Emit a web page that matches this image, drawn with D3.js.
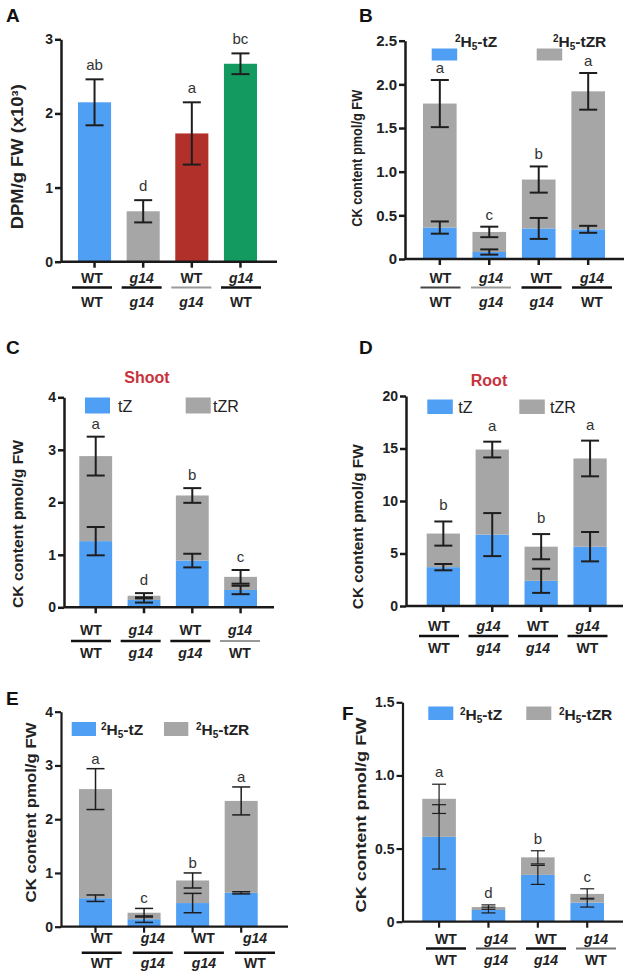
<!DOCTYPE html>
<html><head><meta charset="utf-8">
<script src="https://cdn.jsdelivr.net/npm/d3@7"></script>
<style>body{margin:0;background:#fff}svg{display:block;font-family:"Liberation Sans",Arial,sans-serif}</style>
</head><body>
<script>
// ---------- DATA ----------
const categories = ["WT/WT","g14/g14","WT/g14","g14/WT"];
const scionLabels = ["WT","g14","WT","g14"];
const rootLabels  = ["WT","g14","g14","WT"];

// Panel A (single bars)
const aValues = [2.15, 0.68, 1.73, 2.67];
const aErr    = [0.31, 0.15, 0.42, 0.14];
const aLetters = ["ab","d","a","bc"];

// Panel B (2H5-tZ / 2H5-tZR)
const bTZ = [0.36, 0.08, 0.35, 0.34];
const bTZErr = [0.07, 0.03, 0.12, 0.04];
const bTZR = [1.42, 0.23, 0.56, 1.58];
const bTotErr = [0.27, 0.06, 0.15, 0.21];
const bLetters = ["a","c","b","a"];

// Panel C (Shoot tZ / tZR)
const cTZ = [1.26, 0.14, 0.89, 0.33];
const cTZErr = [0.27, 0.05, 0.13, 0.08];
const cTZR = [1.62, 0.08, 1.24, 0.25];
const cTotErr = [0.37, 0.05, 0.14, 0.13];
const cLetters = ["a","d","b","c"];

// Panel D (Root tZ / tZR)
const dTZ = [3.7, 6.8, 2.4, 5.65];
const dTZErr = [0.3, 2.05, 1.15, 1.4];
const dTZR = [3.2, 8.1, 3.25, 8.4];
const dTotErr = [1.15, 0.75, 1.2, 1.7];
const dLetters = ["b","a","b","a"];

// Panel E
const eTZ = [0.53, 0.14, 0.44, 0.63];
const eTZErr = [0.06, 0.06, 0.18, 0.02];
const eTZR = [2.03, 0.12, 0.42, 1.71];
const eTotErr = [0.38, 0.08, 0.14, 0.26];
const eLetters = ["a","c","b","a"];

// Panel F
const fTZ = [0.58, 0.08, 0.32, 0.13];
const fTZErr = [0.22, 0.02, 0.065, 0.03];
const fTZR = [0.26, 0.02, 0.12, 0.06];
const fTotErr = [0.10, 0.015, 0.045, 0.035];
const fLetters = ["a","d","b","c"];

// tick labels
const ticks3 = [0,1,2,3], ticks3Labels = ["0","1","2","3"];
const ticks25 = [0,0.5,1,1.5,2,2.5], ticks25Labels = ["0","0.5","1.0","1.5","2.0","2.5"];
const ticks4 = [0,1,2,3,4], ticks4Labels = ["0","1","2","3","4"];
const ticks20 = [0,5,10,15,20], ticks20Labels = ["0","5","10","15","20"];
const ticks15 = [0,0.5,1,1.5], ticks15Labels = ["0","0.5","1.0","1.5"];

// ---------- STYLE ----------
const BLUE = "#4f9ff5", GRAY = "#a6a6a6";
const aColors = [BLUE, GRAY, "#b2302a", "#139a60"];

const svg = d3.select("body").append("svg").attr("width",633).attr("height",977);

function drawPanel(p) {
  const g = svg.append("g");
  const y = d3.scaleLinear().domain([0, p.yMax]).range([p.y0, p.yTop]);
  const x = d3.scaleBand().domain(categories).range([p.bx0, p.bx1]).paddingInner(0.32).paddingOuter(0);
  const bw = x.bandwidth();
  const cx = i => x(categories[i]) + bw/2;

  let errs = [];
  if (p.single) {
    g.selectAll("rect.bar").data(p.values).join("rect")
      .attr("x",(d,i)=>x(categories[i])).attr("width",bw)
      .attr("y",d=>y(d)).attr("height",d=>y(0)-y(d))
      .attr("fill",(d,i)=>p.colors[i]);
    p.values.forEach((v,i)=>errs.push({i, v, e:p.err[i], top:true}));
  } else {
    const rows = categories.map((c,i)=>({cat:c, tZ:p.tZ[i], tZR:p.tZR[i]}));
    const series = d3.stack().keys(["tZ","tZR"])(rows);
    const col = {tZ:BLUE, tZR:GRAY};
    g.selectAll("g.s").data(series).join("g").attr("fill",s=>col[s.key])
      .selectAll("rect").data(s=>s).join("rect")
      .attr("x",d=>x(d.data.cat)).attr("width",bw)
      .attr("y",d=>y(d[1])).attr("height",d=>y(d[0])-y(d[1]));
    series[0].forEach((d,i)=>errs.push({i, v:d[1], e:p.tZErr[i]}));
    series[1].forEach((d,i)=>errs.push({i, v:d[1], e:p.totErr[i], top:true}));
  }
  const eg = g.append("g").attr("stroke","#1e1e1e").attr("stroke-width",p.errW).attr("fill","none");
  errs.forEach(d=>{
    const xc = cx(d.i), yt = y(d.v+d.e), yb = y(d.v-d.e);
    eg.append("line").attr("x1",xc).attr("x2",xc).attr("y1",yt).attr("y2",yb);
    eg.append("line").attr("x1",xc-p.capW/2).attr("x2",xc+p.capW/2).attr("y1",yt).attr("y2",yt);
    eg.append("line").attr("x1",xc-p.capW/2).attr("x2",xc+p.capW/2).attr("y1",yb).attr("y2",yb);
  });
  const tops = errs.filter(d=>d.top).map(d=>d.v+d.e);
  g.selectAll("text.let").data(p.letters).join("text")
    .attr("x",(d,i)=>cx(i)).attr("y",(d,i)=>y(tops[i]) - p.letOff)
    .attr("text-anchor","middle").attr("font-size",15).attr("fill","#333").text(d=>d);

  const ya = g.append("g").attr("transform",`translate(${p.axisX},0)`)
    .call(d3.axisLeft(y).tickValues(p.ticks).tickFormat((d,i)=>p.tickLabels[i]).tickSize(6).tickSizeOuter(0));
  ya.selectAll("path,line").attr("stroke","#1a1a1a").attr("stroke-width",p.axW);
  ya.selectAll("text").attr("font-size",p.tickFs).attr("font-weight","bold").attr("fill","#222")
    .attr("font-family","Liberation Sans, Arial, sans-serif").attr("x",-8);
  g.append("line").attr("x1",p.axisX).attr("x2",p.xEnd).attr("y1",p.y0).attr("y2",p.y0)
    .attr("stroke","#1a1a1a").attr("stroke-width",p.axW);
  const xa = g.append("g").attr("transform",`translate(0,${p.y0})`)
    .call(d3.axisBottom(x).tickSize(6).tickSizeOuter(0).tickFormat(""));
  xa.select("path").remove();
  xa.selectAll("line").attr("stroke","#1a1a1a").attr("stroke-width",p.axW);

  const lx = d3.scalePoint().domain(categories).range(p.labRange);
  categories.forEach((c,i)=>{
    const xc = lx(c);
    g.append("text").attr("x",xc).attr("y",p.labTop).attr("text-anchor","middle")
      .attr("font-size",14).attr("font-weight","bold").attr("fill","#222")
      .attr("font-style",scionLabels[i]==="g14"?"italic":"normal").text(scionLabels[i]);
    g.append("line").attr("x1",xc-20).attr("x2",xc+20).attr("y1",p.labLine).attr("y2",p.labLine)
      .attr("stroke",p.lineColors[i]).attr("stroke-width",p.lineWidths[i]);
    g.append("text").attr("x",xc).attr("y",p.labBot).attr("text-anchor","middle")
      .attr("font-size",14).attr("font-weight","bold").attr("fill","#222")
      .attr("font-style",rootLabels[i]==="g14"?"italic":"normal").text(rootLabels[i]);
  });

  g.append("text").attr("transform",`translate(${p.yl[0]},${p.yl[1]}) rotate(-90)`)
    .attr("text-anchor","middle").attr("dominant-baseline","central")
    .attr("font-size",p.ylFs).attr("font-weight","bold").attr("fill","#222")
    .attr("textLength",p.ylLen).attr("lengthAdjust","spacingAndGlyphs").text(p.ylabel);

  g.append("text").attr("x",p.pl[0]).attr("y",p.pl[1]).attr("font-size",19).attr("font-weight","bold")
    .attr("fill","#111").text(p.name);

  if (p.title) {
    g.append("text").attr("x",p.title[1]).attr("y",p.title[2]).attr("text-anchor","middle")
      .attr("font-size",16).attr("font-weight","bold").attr("fill","#c8323c").text(p.title[0]);
  }
  if (p.leg) {
    const L = p.leg;
    [BLUE, GRAY].forEach((c,k)=>{
      g.append("rect").attr("x",L.rx[k]).attr("y",L.ry).attr("width",L.rw).attr("height",L.rh).attr("fill",c);
      const t = g.append("text").attr("x",L.tx[k]).attr("y",L.ty).attr("fill","#222");
      if (L.iso) {
        t.attr("font-size",15.5).attr("font-weight","bold");
        t.append("tspan").attr("font-size",10).attr("dy",-5).text("2");
        t.append("tspan").attr("dy",5).text("H");
        t.append("tspan").attr("font-size",10).attr("dy",3).text("5");
        t.append("tspan").attr("dy",-3).text(k===0?"-tZ":"-tZR");
      } else {
        t.attr("font-size",16).text(k===0?"tZ":"tZR");
      }
    });
  }
}

const K = "#111";
drawPanel({name:"A", pl:[6,22], single:true, values:aValues, err:aErr, colors:aColors, letters:aLetters,
  yMax:3, ticks:ticks3, tickLabels:ticks3Labels, axisX:61, y0:261.7, yTop:39.3, bx0:78, bx1:257, xEnd:277,
  capW:18, errW:2, axW:2.5, tickFs:14, letOff:9,
  labRange:[92,241], labTop:283, labLine:287.5, labBot:307,
  lineColors:[K,K,"#9a9a9a",K], lineWidths:[2.5,2.5,2,2.5],
  ylabel:"DPM/g FW (x10\u00B3)", yl:[17,156.7], ylFs:16, ylLen:145});

drawPanel({name:"B", pl:[359,22], tZ:bTZ, tZErr:bTZErr, tZR:bTZR, totErr:bTotErr, letters:bLetters,
  yMax:2.5, ticks:ticks25, tickLabels:ticks25Labels, axisX:405, y0:259, yTop:40.7, bx0:423, bx1:605, xEnd:624,
  capW:18, errW:2, axW:2.5, tickFs:15, letOff:7,
  labRange:[440.5,592], labTop:283, labLine:287.5, labBot:307,
  lineColors:["#444","#999",K,K], lineWidths:[1.8,1.8,2.5,2.5],
  ylabel:"CK content pmol/g FW", yl:[356.7,158.3], ylFs:14, ylLen:137,
  leg:{iso:true, rx:[431.7,536.7], ry:48.5, rw:25.5, rh:12, tx:[455,553], ty:47}});

drawPanel({name:"C", pl:[6,353.5], tZ:cTZ, tZErr:cTZErr, tZR:cTZR, totErr:cTotErr, letters:cLetters,
  yMax:4, ticks:ticks4, tickLabels:ticks4Labels, axisX:64, y0:607.3, yTop:397.3, bx0:79.3, bx1:257, xEnd:274,
  capW:18, errW:2, axW:2.5, tickFs:14, letOff:8,
  labRange:[91,240], labTop:635, labLine:641, labBot:658,
  lineColors:[K,K,K,"#999"], lineWidths:[2.5,2.5,2.5,2],
  ylabel:"CK content pmol/g FW", yl:[17.5,524], ylFs:15, ylLen:168,
  title:["Shoot",147,382.5],
  leg:{iso:false, rx:[85,185.7], ry:397.5, rw:25, rh:16, tx:[118,213], ty:412}});

drawPanel({name:"D", pl:[359,354], tZ:dTZ, tZErr:dTZErr, tZR:dTZR, totErr:dTotErr, letters:dLetters,
  yMax:20, ticks:ticks20, tickLabels:ticks20Labels, axisX:406, y0:606, yTop:396, bx0:426.7, bx1:606.7, xEnd:623,
  capW:18, errW:2, axW:2.5, tickFs:14, letOff:11,
  labRange:[439,587.5], labTop:631, labLine:636, labBot:653,
  lineColors:[K,K,K,K], lineWidths:[2.5,2.5,2.5,2.5],
  ylabel:"CK content pmol/g FW", yl:[357.3,526.7], ylFs:15, ylLen:165,
  title:["Root",489,386],
  leg:{iso:false, rx:[427.3,519.3], ry:399.5, rw:25.5, rh:14.5, tx:[458.3,550], ty:413}});

drawPanel({name:"E", pl:[6,705], tZ:eTZ, tZErr:eTZErr, tZR:eTZR, totErr:eTotErr, letters:eLetters,
  yMax:4, ticks:ticks4, tickLabels:ticks4Labels, axisX:61, y0:926.7, yTop:711.7, bx0:79, bx1:257.7, xEnd:288,
  capW:18, errW:1.5, axW:2.2, tickFs:14, letOff:5,
  labRange:[101.7,255], labTop:942.7, labLine:952.7, labBot:968,
  lineColors:[K,K,K,K], lineWidths:[2.5,2.5,2.5,2.5],
  ylabel:"CK content pmol/g FW", yl:[30.7,812.5], ylFs:15, ylLen:180,
  leg:{iso:true, rx:[71.7,164], ry:722, rw:24.3, rh:14, tx:[101,196], ty:735}});

drawPanel({name:"F", pl:[342,720], tZ:fTZ, tZErr:fTZErr, tZR:fTZR, totErr:fTotErr, letters:fLetters,
  yMax:1.5, ticks:ticks15, tickLabels:ticks15Labels, axisX:402.5, y0:921.7, yTop:702.3, bx0:422.3, bx1:604, xEnd:623,
  capW:14, errW:1.2, axW:2.2, tickFs:14, letOff:7,
  labRange:[446,596], labTop:944, labLine:948.5, labBot:965,
  lineColors:[K,"#444",K,"#777"], lineWidths:[2.5,1.8,2.5,1.8],
  ylabel:"CK content pmol/g FW", yl:[360.7,815], ylFs:15, ylLen:195,
  leg:{iso:true, rx:[428.3,526.3], ry:706.5, rw:25, rh:13.5, tx:[460,559], ty:720}});
</script>
</body></html>
